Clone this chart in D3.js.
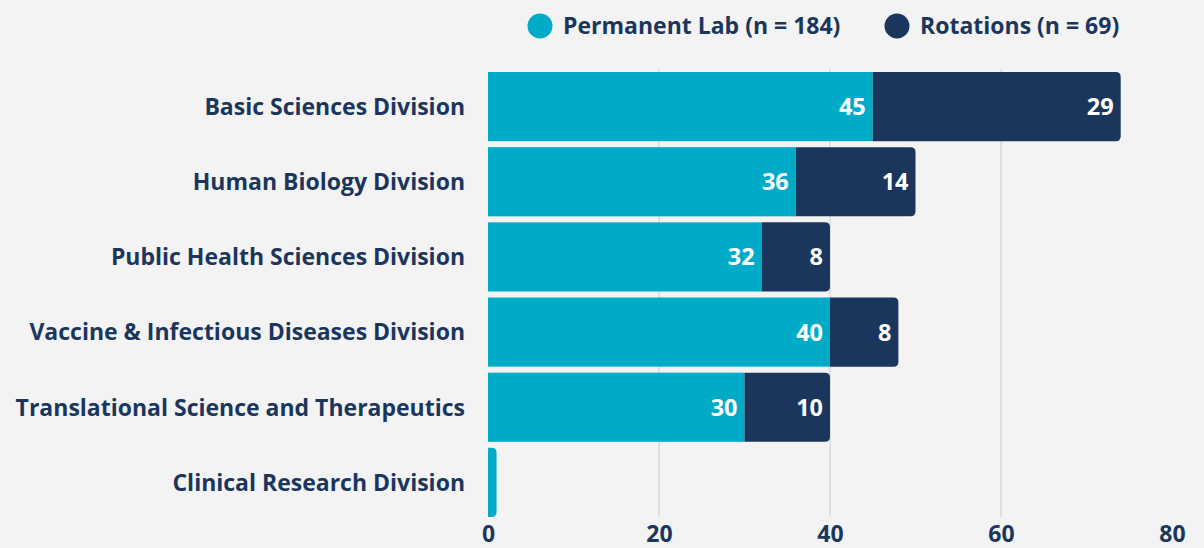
<!DOCTYPE html>
<html>
<head>
<meta charset="utf-8">
<script src="https://cdn.jsdelivr.net/npm/d3@7"></script>
<style>
  html, body { margin: 0; padding: 0; background: #f3f3f3; }
  svg { display: block; font-family: "Open Sans", "Noto Sans", sans-serif; font-weight: 700; }
</style>
</head>
<body>
<div id="chart"></div>
<script>
var divisions = ["Basic Sciences Division", "Human Biology Division", "Public Health Sciences Division",
    "Vaccine & Infectious Diseases Division", "Translational Science and Therapeutics", "Clinical Research Division"];
var permanent = [45, 36, 32, 40, 30, 1];
var rotations = [29, 14, 8, 8, 10, 0];
var seriesNames = ["Permanent Lab (n = 184)", "Rotations (n = 69)"];
var xTicks = [0, 20, 40, 60, 80];

var width = 1204, height = 548;
var colors = ["#00abc7", "#1b365d"];
var navy = "#1b365d";

var svg = d3.select("#chart").append("svg")
    .attr("width", width)
    .attr("height", height);

var x = d3.scaleLinear().domain([0, 80]).range([488, 1172]);
var y = d3.scaleBand().domain(divisions).range([69, 520]).paddingInner(0.08).paddingOuter(0.04);

// grid
svg.append("g").selectAll("line")
    .data(xTicks.filter(function (t) { return t > 0 && t < 80; }))
    .enter().append("line")
    .attr("x1", function (d) { return x(d); })
    .attr("x2", function (d) { return x(d); })
    .attr("y1", 69).attr("y2", 517)
    .attr("stroke", "#c7ccd8").attr("stroke-width", 1);

// build segments
var rows = divisions.map(function (name, i) {
    return { name: name, vals: [permanent[i], rotations[i]] };
});

// rect with rounded right corners
function barPath(x0, x1, y0, h, r) {
    r = Math.min(r, (x1 - x0));
    return "M" + x0 + "," + y0 + "H" + (x1 - r) + "Q" + x1 + "," + y0 + " " + x1 + "," + (y0 + r) +
        "V" + (y0 + h - r) + "Q" + x1 + "," + (y0 + h) + " " + (x1 - r) + "," + (y0 + h) + "H" + x0 + "Z";
}

var g = svg.append("g");
rows.forEach(function (row) {
    var start = 0;
    var lastIdx = row.vals[1] > 0 ? 1 : 0;
    row.vals.forEach(function (v, k) {
        if (v <= 0) return;
        var x0 = x(start), x1 = x(start + v);
        var yy = y(row.name), h = y.bandwidth();
        if (k === lastIdx) {
            g.append("path").attr("d", barPath(x0, x1, yy, h, 5)).attr("fill", colors[k]);
        } else {
            g.append("rect").attr("x", x0).attr("y", yy).attr("width", x1 - x0).attr("height", h).attr("fill", colors[k]);
        }
        if (v >= 5) {
            g.append("text")
                .attr("x", x1 - 7)
                .attr("y", yy + h / 2)
                .attr("dy", "0.36em")
                .attr("text-anchor", "end")
                .attr("fill", "#fff")
                .attr("font-size", 23.5)
                .text(v);
        }
        start += v;
    });
});

// category labels
svg.append("g").selectAll("text")
    .data(divisions)
    .enter().append("text")
    .attr("x", 465)
    .attr("y", function (d) { return y(d) + y.bandwidth() / 2; })
    .attr("dy", "0.36em")
    .attr("text-anchor", "end")
    .attr("fill", navy)
    .attr("font-size", 23)
    .text(function (d) { return d; });

// x axis (labels sit at the bottom edge, as in the original)
var xAxis = svg.append("g")
    .attr("transform", "translate(0,520)")
    .call(d3.axisBottom(x).tickValues(xTicks).tickSize(0).tickPadding(6));
xAxis.select(".domain").remove();
xAxis.selectAll("text")
    .attr("fill", navy)
    .attr("font-size", 23)
    .attr("font-family", "'Open Sans', sans-serif")
    .attr("font-weight", 700);

// legend
var legendX = [540, 897];
var legend = svg.append("g").selectAll("g")
    .data(seriesNames)
    .enter().append("g")
    .attr("transform", function (d, i) { return "translate(" + legendX[i] + ",26)"; });
legend.append("circle").attr("r", 12.5).attr("fill", function (d, i) { return colors[i]; });
legend.append("text")
    .attr("x", 23)
    .attr("dy", "0.36em")
    .attr("fill", navy)
    .attr("font-size", 23)
    .text(function (d) { return d; });
</script>
</body>
</html>
